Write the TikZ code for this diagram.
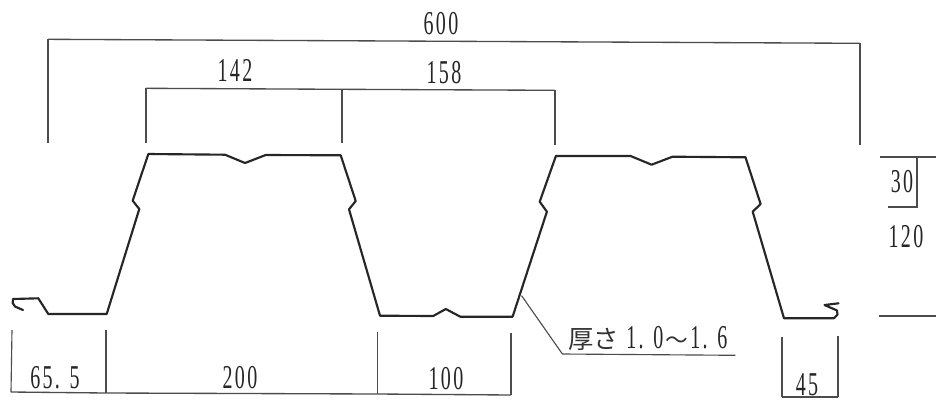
\documentclass[tikz,border=0pt]{standalone}
\usepackage{fontspec}
\setmainfont{Liberation Serif}
\newfontfamily\numfont[FakeStretch=0.6,LetterSpace=7]{Liberation Serif}
\newfontfamily\cjkfont{Noto Sans CJK JP}
\tikzset{
  profile/.style={line width=1.6pt,line join=round,line cap=round,draw=black!85},
  dimline/.style={line width=1pt,draw=black!70},
  dimtick/.style={line width=0.85pt,draw=black!70},
  dimtext/.style={inner sep=0pt,font=\fontsize{25}{25}\selectfont\numfont,text=black!85},
  cjktext/.style={inner sep=0pt,font=\fontsize{19}{19}\selectfont\cjkfont,text=black!80}
}
\begin{document}
\begin{tikzpicture}[x=0.75pt,y=-0.75pt]
\useasboundingbox (0,0) rectangle (936,401);
\fill[white] (0,0) rectangle (936,401);
% profile
\draw[profile] (23,310) -- (15,306.5) -- (12.7,303) -- (13,299) -- (38.3,298.3) -- (48.3,314) -- (106.7,314)
  -- (139.3,209) -- (132.7,200.7) -- (148.3,154) -- (225,154.7) -- (245,163) -- (265.7,155) -- (340.7,155.3)
  -- (355.7,201) -- (349,209.3) -- (380,315.7) -- (433.2,316) -- (445.8,309) -- (460.3,316.7) -- (512.6,316.7)
  -- (546.9,211.7) -- (539.7,201.7) -- (555.9,156) -- (630.6,156) -- (651.6,164.7) -- (672.5,156.7) -- (745.5,157.3)
  -- (760.6,204) -- (752.7,211.7) -- (784,318.3) -- (833.9,318.3) -- (837.5,314.5) -- (837,310.5) -- (824.5,305) -- (838.6,303.3);
% top dimensions
\coordinate (ta) at (48,39.3);
\coordinate (tb) at (860,43.3);
\coordinate (ua) at (146,88.3);
\coordinate (ub) at (342,89.3);
\coordinate (uc) at (555,90.3);
\draw[dimline] (ta) -- (tb);
\draw[dimline] (ua) -- (ub) -- (uc);
\draw[dimtick] (ta) -- (48,143);
\draw[dimtick] (tb) -- (860,145);
\draw[dimtick] (ua) -- (146,143);
\draw[dimtick] (ub) -- (342,143);
\draw[dimtick] (uc) -- (555,145);
% bottom dimensions
\coordinate (ba) at (11,392);
\coordinate (bb) at (106,393);
\coordinate (bc) at (377.5,394);
\coordinate (bd) at (511,395);
\draw[dimline] (ba) -- (bb) -- (bc) -- (bd);
\draw[dimtick] (12,330) -- (ba);
\draw[dimtick] (106,330) -- (bb);
\draw[dimtick] (377.5,332) -- (bc);
\draw[dimtick] (511,333) -- (bd);
% 45
\coordinate (ca) at (782,397);
\coordinate (cb) at (838,397);
\draw[dimline] (ca) -- (cb);
\draw[dimtick] (782,337) -- (ca);
\draw[dimtick] (838,336) -- (cb);
% right dimensions
\coordinate (ra) at (917,157);
\coordinate (rb) at (917,207);
\draw[dimline] (880,157) -- (936,157);
\draw[dimline] (ra) -- (rb) -- (888,207);
\draw[dimline] (879,316) -- (936,316);
% leader
\coordinate (la) at (521.6,295.7);
\coordinate (lb) at (562.4,354);
\coordinate (lc) at (735.3,355.3);
\draw[dimtick] (la) -- (lb) -- (lc);
% labels
\node[dimtext] (n600) at (441,24) {600};
\node[dimtext] (n142) at (235,70) {142};
\node[dimtext] (n158) at (444,73) {158};
\node[dimtext] (n655) at (55,378) {65. 5};
\node[dimtext] (n200) at (240,378) {200};
\node[dimtext] (n100) at (446,379) {100};
\node[dimtext] (n45) at (807,385) {45};
\node[dimtext] (n30) at (902,182) {30};
\node[dimtext] (n120) at (906,237) {120};
\node[cjktext,anchor=base west] (thick) at (568,348) {厚さ};
\node[dimtext,anchor=base west] (thickv) at (626,348) {1. 0};
\node[cjktext,anchor=base west,font=\fontsize{17}{17}\selectfont\cjkfont] (tilde) at (665,348) {〜};
\node[dimtext,anchor=base west] (thickw) at (690,348) {1. 6};
\end{tikzpicture}
\end{document}
